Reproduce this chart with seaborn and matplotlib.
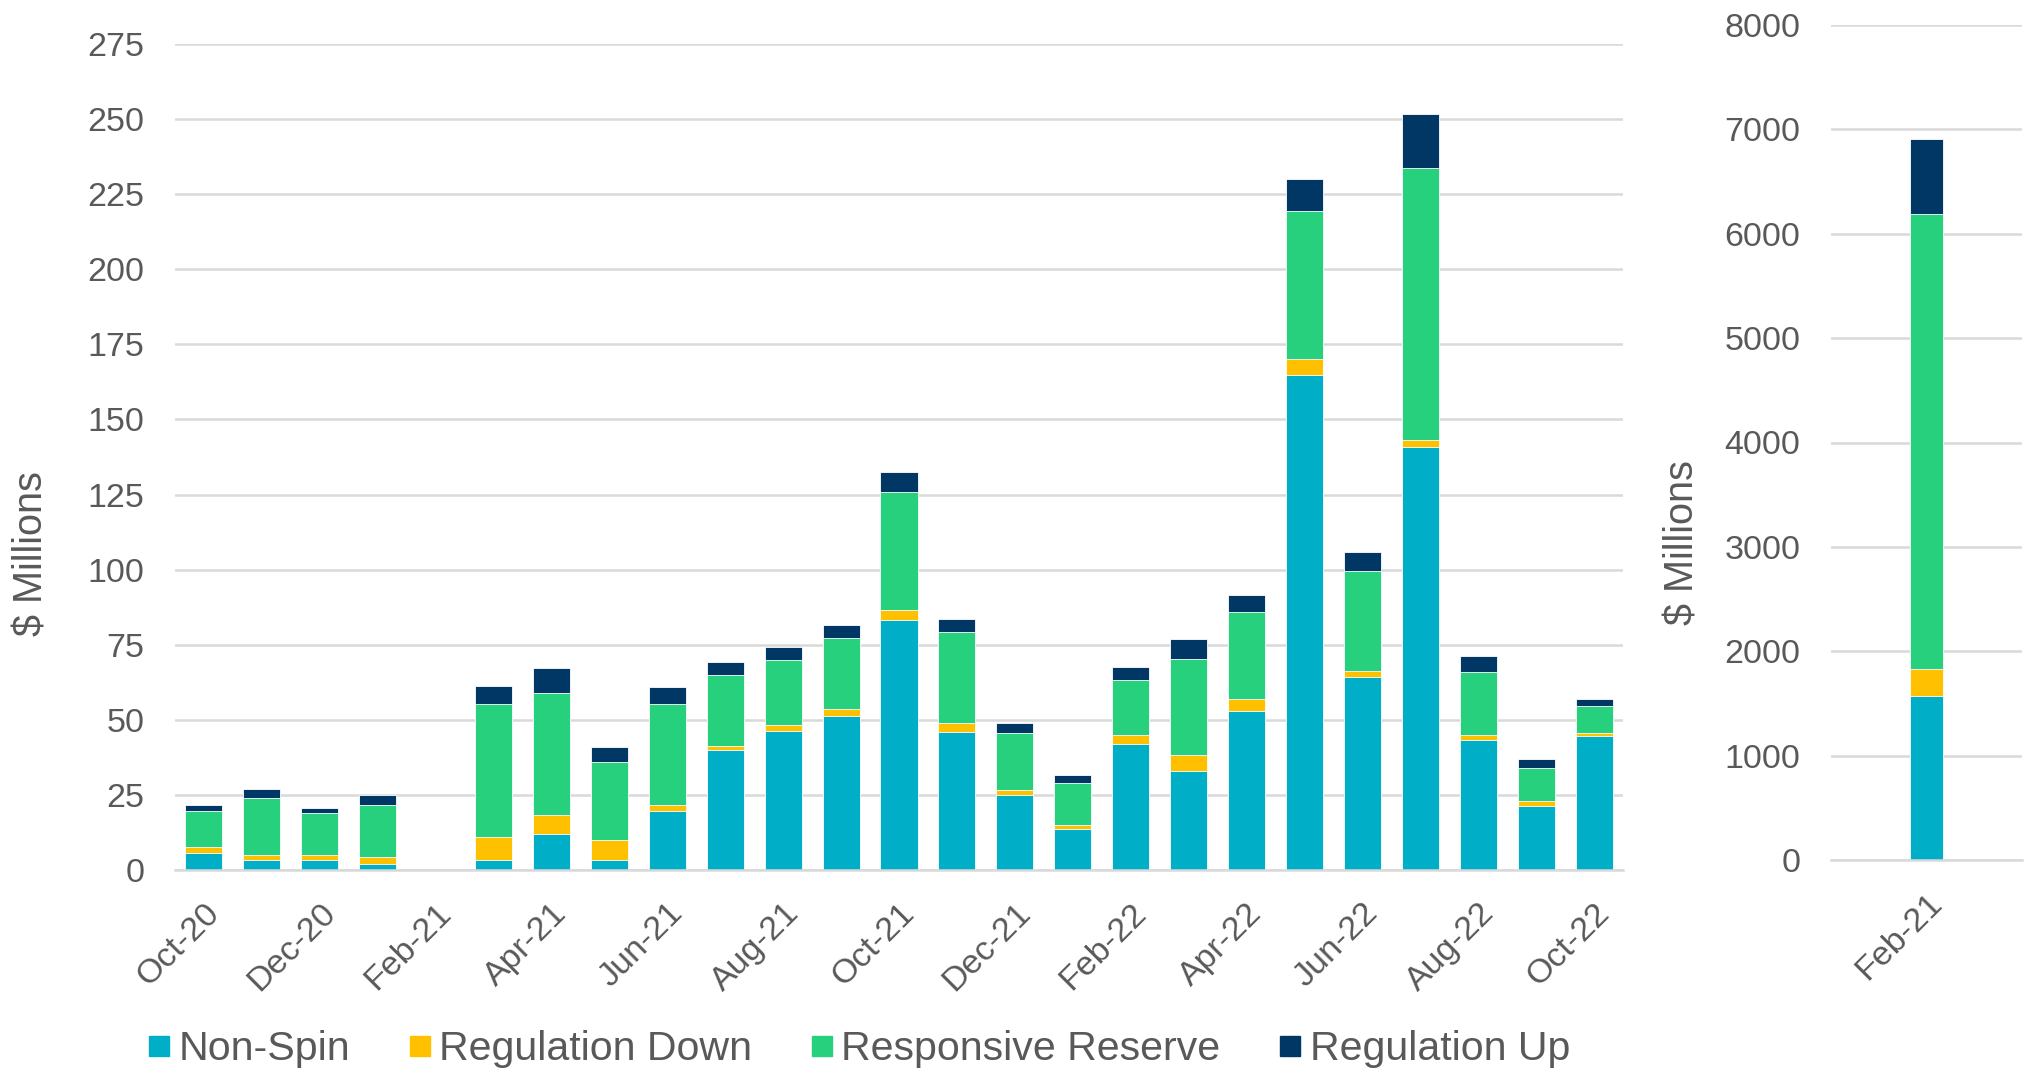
import numpy as np
import pandas as pd
import matplotlib
matplotlib.use("Agg")
import matplotlib.pyplot as plt
import seaborn as sns
from matplotlib.lines import Line2D

# Monthly ancillary service costs ($ millions)
months = ["Oct-20", "Nov-20", "Dec-20", "Jan-21", "Feb-21", "Mar-21", "Apr-21",
          "May-21", "Jun-21", "Jul-21", "Aug-21", "Sep-21", "Oct-21", "Nov-21",
          "Dec-21", "Jan-22", "Feb-22", "Mar-22", "Apr-22", "May-22", "Jun-22",
          "Jul-22", "Aug-22", "Sep-22", "Oct-22"]
nan = np.nan
non_spin = [5.5, 3.4, 3.3, 2.1, nan, 3.4, 12.0, 3.3, 19.5, 40.0, 46.3, 51.4, 83.2,
            45.9, 24.9, 13.6, 42.1, 33.1, 52.8, 164.8, 64.4, 140.9, 43.2, 21.4, 44.7]
reg_down = [2.0, 1.6, 1.7, 2.3, nan, 7.5, 6.2, 6.6, 2.1, 1.3, 1.9, 2.1, 3.2,
            3.2, 1.9, 1.5, 2.7, 5.1, 4.0, 5.4, 1.8, 2.1, 1.7, 1.7, 0.8]
resp_reserve = [12.0, 19.1, 14.1, 17.2, nan, 44.4, 40.7, 25.9, 33.5, 23.7, 21.6, 23.8, 39.4,
                30.1, 18.9, 13.8, 18.5, 32.2, 29.1, 49.2, 33.2, 90.7, 20.9, 10.7, 9.2]
reg_up = [2.3, 2.9, 1.7, 3.5, nan, 5.9, 8.2, 5.1, 5.9, 4.2, 4.4, 4.2, 6.7,
          4.2, 3.3, 2.8, 4.2, 6.5, 5.5, 10.7, 6.4, 18.0, 5.5, 3.1, 2.1]

# February 2021 (winter storm) shown on its own scale
feb21_label = ["Feb-21"]
feb21_non_spin = [1568]
feb21_reg_down = [264]
feb21_resp_reserve = [4358]
feb21_reg_up = [721]

series_names = ["Non-Spin", "Regulation Down", "Responsive Reserve", "Regulation Up"]
colors = ["#00AEC7", "#FFC000", "#27D07D", "#003764"]

text_color = "#595959"
grid_color = "#D9D9D9"

sns.set_theme(style="white")
plt.rcParams["font.family"] = ["Liberation Sans", "DejaVu Sans"]

fig = plt.figure(figsize=(20.28, 10.72), dpi=100)
ax = fig.add_axes([175 / 2028, 1 - 870 / 1072, 1448 / 2028, 826 / 1072])
ax2 = fig.add_axes([1831 / 2028, 1 - 860 / 1072, 191 / 2028, 835 / 1072])


def stacked(axis, cats, parts, width):
    df = pd.DataFrame({"month": cats})
    cum = np.cumsum(np.array(parts, dtype=float), axis=0)
    # draw the tallest cumulative layer first so lower segments sit on top
    for i in range(len(parts) - 1, -1, -1):
        df["value"] = cum[i]
        sns.barplot(data=df.dropna(), x="month", y="value", order=cats,
                    color=colors[i], saturation=1, width=width, errorbar=None,
                    edgecolor="white", linewidth=0.6, ax=axis)


stacked(ax, months, [non_spin, reg_down, resp_reserve, reg_up], 0.64)
stacked(ax2, feb21_label, [feb21_non_spin, feb21_reg_down, feb21_resp_reserve, feb21_reg_up], 0.17)


def style(axis, ymax, ystep):
    axis.set_ylim(0, ymax)
    axis.set_yticks(np.arange(0, ymax + 1, ystep))
    axis.yaxis.grid(True, color=grid_color, linewidth=1.8)
    axis.set_axisbelow(True)
    for s in ["top", "right", "left"]:
        axis.spines[s].set_visible(False)
    axis.spines["bottom"].set_color(grid_color)
    axis.spines["bottom"].set_linewidth(1.8)
    axis.tick_params(axis="both", length=0, labelsize=24.5, labelcolor=text_color)
    axis.tick_params(axis="y", pad=22)
    axis.set_xlabel("")
    axis.set_ylabel("$ Millions", fontsize=28.5, color=text_color)


style(ax, 275, 25)
style(ax2, 8000, 1000)

ax.set_xlim(-0.5, len(months) - 0.5)
ax.set_xticks(range(0, len(months), 2))
ax.set_xticklabels(months[::2])
ax2.set_xlim(-0.5, 0.5)
ax2.set_xticks([0])
ax2.set_xticklabels(feb21_label)
for axis in (ax, ax2):
    axis.tick_params(axis="x", pad=20)
    for lbl in axis.get_xticklabels():
        lbl.set_rotation(45)
        lbl.set_ha("right")
        lbl.set_va("top")
        lbl.set_rotation_mode("anchor")

ax.yaxis.set_label_coords(-0.0857, 0.383)
ax2.yaxis.set_label_coords(-0.679, 0.38)

handles = [Line2D([], [], marker="s", linestyle="none", markersize=15,
                  markerfacecolor=c, markeredgecolor=c) for c in colors]
fig.legend(handles, series_names, loc="center left", bbox_to_anchor=(131 / 2028, 1 - 1049 / 1072),
           ncol=4, frameon=False, fontsize=29.6, labelcolor=text_color,
           handlelength=0.55, handletextpad=0.2, columnspacing=1.42, borderaxespad=0)

fig.savefig("out.png", dpi=100)
